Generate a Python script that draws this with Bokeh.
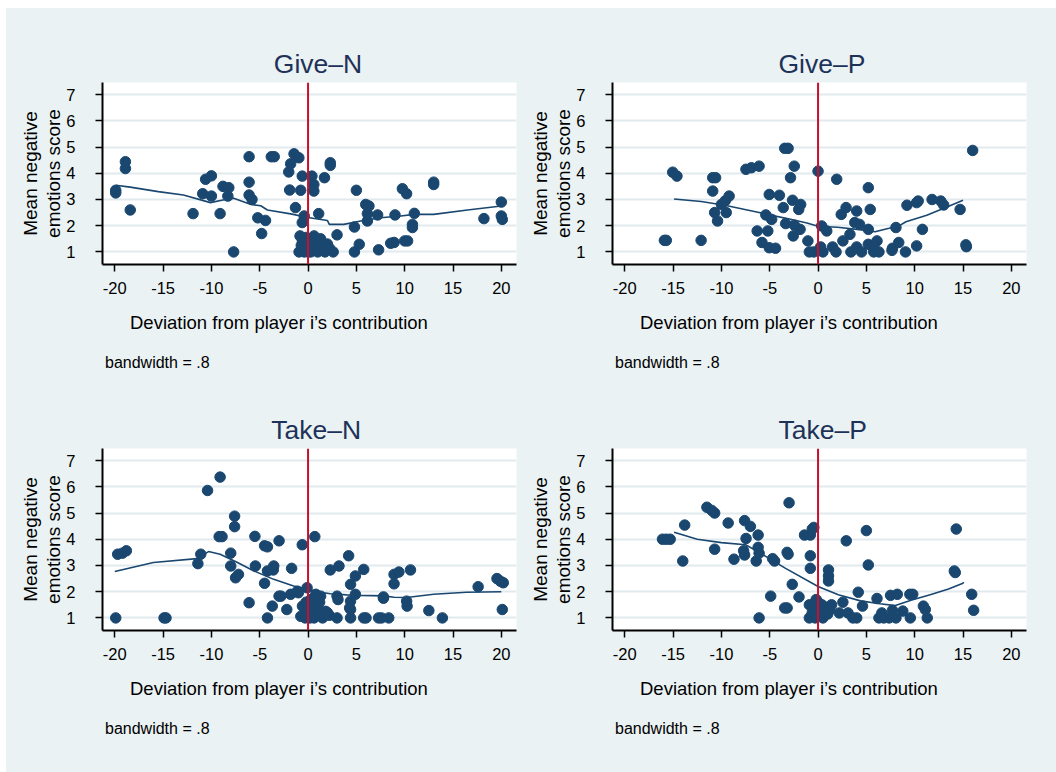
from bokeh.plotting import figure
from bokeh.layouts import column, row, Spacer
from bokeh.models import FixedTicker, Span, Title
from bokeh.embed import file_html
from bokeh.resources import INLINE

# ---------------- data ----------------
x_ticks = [-20, -15, -10, -5, 0, 5, 10, 15, 20]
x_tick_labels = ["-20", "-15", "-10", "-5", "0", "5", "10", "15", "20"]
y_ticks = [1, 2, 3, 4, 5, 6, 7]
ref_x = 0

titles = ["Give\u2013N", "Give\u2013P", "Take\u2013N", "Take\u2013P"]
x_label = "Deviation from player i\u2019s contribution"
y_label = "Mean negative\nemotions score"
note = "bandwidth = .8"

gn_x = [-19.9, -19.9, -18.9, -18.9, -18.4, -11.9, -10.6, -10.0, -10.9, -10.0, -9.1, -8.8, -8.2, -8.3,
        -7.7, -6.1, -6.1, -6.1, -5.8, -5.2, -4.4, -4.8, -3.8, -3.5, -1.8, -2.0, -1.9, -1.45, -0.95,
        -1.3, -0.76, -0.6, -0.6, -0.4, 0.4, 0.6, 0.6, 1.7, 1.1, 2.3, 2.3,
        -0.93, -0.58, -0.83, 0.28, 0.97, 1.65, 1.75, 0.62, 0.07, -0.4, -0.7, 0.3, 1.3, 2.0, 1.0, 0.5,
        -0.2, 1.4, 2.2, 0.0, 0.8,
        2.6, 3.0, 4.8, 5.3, 7.3, 4.8, 5.0, 5.97, 6.14, 6.14, 7.2, 8.55, 8.9, 9.0, 9.76, 10.2, 10.0,
        10.3, 10.8, 10.8, 11.0, 13.0, 13.0, 18.2, 20.0, 20.0, 20.1, 6.3]
gn_y = [3.35, 3.25, 4.44, 4.18, 2.6, 2.46, 3.77, 3.9, 3.22, 3.13, 2.46, 3.5, 3.45, 3.13,
        1.0, 4.63, 3.66, 3.17, 3.0, 2.3, 2.2, 1.7, 4.63, 4.63, 4.36, 4.05, 3.36, 4.74, 4.59,
        2.69, 3.35, 3.89, 2.12, 2.37, 3.89, 3.57, 3.32, 3.83, 2.46, 4.3, 4.4,
        1.0, 1.42, 1.61, 1.0, 1.29, 1.1, 1.0, 1.61, 1.2, 1.0, 1.25, 1.45, 1.5, 1.3, 1.0, 1.3,
        1.55, 1.2, 1.15, 1.0, 1.15,
        1.0, 1.65, 1.0, 1.29, 1.08, 1.95, 3.35, 2.81, 2.46, 2.18, 2.41, 1.33, 1.36, 2.41, 3.41, 3.22, 1.42,
        1.42, 2.05, 1.93, 2.47, 3.66, 3.57, 2.27, 2.9, 2.37, 2.24, 2.75]
gn_lx = [-19.9, -18.4, -15.5, -12.9, -10.1, -8.8, -7.7, -5.9, -4.9, -4.2, -1.8, 0.0, 2.0, 2.2,
         3.7, 5.45, 7.5, 9.6, 11.0, 13.0, 16.5, 20.0]
gn_ly = [3.54, 3.47, 3.3, 3.17, 2.88, 2.98, 3.05, 2.81, 2.76, 2.6, 2.45, 2.31, 2.2, 2.05,
         2.05, 2.18, 2.3, 2.37, 2.43, 2.43, 2.6, 2.75]

gp_x = [-15.9, -15.7, -15.04, -14.6, -12.1, -10.9, -10.6, -10.9, -10.7, -10.4, -10.0, -9.5, -9.2, -9.6,
        -7.46, -6.9, -6.1, -5.05, -4.0, -5.4, -4.8, -6.3, -5.2, -5.8, -5.05, -4.4, -3.6, -3.35, -3.45,
        -3.1, -2.85, -2.46, -2.64, -1.8, -2.0, -2.57, -1.86, -2.45, -1.05, 0.0, 0.37, 0.9, -0.44, 0.27,
        0.5, 1.5, 1.86, 1.93, 2.4, 2.9, 2.57, 3.3, 4.0, 3.8, 4.3, 3.4, 4.0, 4.5, 5.2, 5.4, 5.2, 5.2,
        6.1, 5.76, 6.3, 7.7, 8.35, 8.06, 9.05, 9.2, 10.2, 10.36, 10.2, 10.8, 11.8, 12.7, 13.0, 14.7,
        15.3, 15.35, 16.0, -0.9, 7.65, 5.7]
gp_y = [1.44, 1.44, 4.04, 3.89, 1.44, 3.83, 3.83, 3.32, 2.5, 2.18, 2.81, 2.5, 3.13, 2.95,
        4.15, 4.21, 4.27, 3.19, 3.16, 2.41, 2.24, 1.8, 1.8, 1.36, 1.16, 1.14, 2.69, 2.08, 4.95,
        4.95, 3.83, 4.27, 2.97, 2.81, 2.62, 1.61, 1.86, 2.02, 1.42, 4.08, 1.99, 1.8, 1.0, 1.19,
        1.0, 1.19, 1.0, 3.77, 2.43, 2.69, 1.42, 1.67, 2.56, 2.12, 2.05, 1.0, 1.19, 1.0, 3.45, 2.62, 1.86, 1.29,
        1.42, 1.0, 1.0, 1.14, 1.36, 1.93, 1.0, 2.78, 2.88, 2.94, 1.23, 1.86, 3.0, 2.94, 2.79, 2.62,
        1.27, 1.2, 4.87, 1.0, 1.06, 1.19]
gp_lx = [-14.9, -12.1, -9.65, -6.1, -3.3, -1.15, 0.0, 2.0, 4.5, 5.9, 7.35, 8.5, 9.1, 11.25, 13.4, 15.0]
gp_ly = [3.02, 2.92, 2.78, 2.5, 2.28, 2.1, 1.98, 1.94, 1.84, 1.77, 1.9, 2.02, 2.15, 2.4, 2.72, 2.97]

tn_x = [-19.9, -19.7, -19.2, -18.8, -14.9, -14.7, -11.4, -11.1, -10.4, -9.1, -9.2, -8.9, -8.0, -8.0,
        -7.6, -7.6, -7.5, -7.2, -6.1, -5.5, -5.45, -4.5, -4.2, -4.5, -4.2, -4.2, -3.7, -3.55, -3.6,
        -3.0, -3.0, -2.2, -1.7, -1.8, -0.6, 0.7, -1.0, -0.1, -2.8, -1.1,
        -0.58, -0.75, 0.28, 0.97, 1.3, 1.83, 0.62, 1.5, 2.0, 0.0, 0.5, 1.0, -0.3, 0.2, 0.8, 1.2, 0.4,
        -0.2, 2.2,
        2.3, 3.2, 3.0, 3.1, 3.0, 4.2, 4.4, 4.9, 4.4, 4.4, 4.4, 4.9, 4.3, 5.76, 5.76, 6.0, 7.3, 7.6,
        8.35, 7.8, 7.8, 8.9, 9.4, 8.9, 10.2, 10.25, 10.6, 12.5, 13.9, 17.6, 19.55, 19.9, 20.2, 20.1]
tn_y = [1.0, 3.43, 3.47, 3.56, 1.0, 1.0, 3.07, 3.43, 5.86, 6.37, 4.1, 4.1, 3.47, 2.98,
        4.88, 4.48, 2.53, 2.66, 1.58, 4.11, 2.98, 3.75, 3.71, 2.32, 2.79, 1.0, 1.45, 2.98, 2.83,
        3.94, 1.83, 1.32, 2.89, 1.9, 3.79, 4.1, 1.96, 2.15, 1.83, 2.02,
        1.45, 1.06, 1.7, 1.45, 1.83, 1.25, 1.0, 1.0, 1.2, 1.3, 1.55, 1.2, 1.0, 1.0, 1.9, 1.6, 1.25,
        1.6, 1.1,
        2.83, 2.98, 1.83, 1.7, 1.0, 3.37, 2.28, 2.6, 1.64, 1.32, 1.0, 1.9, 1.38, 2.85, 1.0, 1.0, 1.0, 1.0,
        1.0, 1.8, 1.75, 2.66, 2.75, 2.3, 1.64, 1.45, 2.83, 1.28, 1.0, 2.19, 2.5, 2.4, 2.34, 1.32]
tn_lx = [-20.0, -16.0, -11.5, -10.3, -9.1, -7.3, -5.6, -3.55, -1.5, 0.0, 1.3, 2.3, 4.0, 5.4, 7.8,
         8.9, 10.2, 13.0, 16.4, 20.0]
tn_ly = [2.77, 3.11, 3.26, 3.53, 3.43, 3.11, 2.79, 2.47, 2.22, 2.09, 1.98, 1.92, 1.88, 1.86, 1.84,
         1.79, 1.78, 1.9, 1.98, 2.0]

tp_x = [-16.1, -15.3, -15.7, -13.8, -14.0, -11.5, -10.7, -11.0, -10.7, -9.3, -8.7, -7.6, -7.0, -7.45,
        -7.7, -7.6, -6.2, -6.2, -6.1, -6.4, -6.1, -4.7, -4.5, -4.9, -3.45, -3.2, -3.2, -3.1, -3.0,
        -2.67, -1.97, -1.4, -0.8, -0.6, -0.44, -0.8, -0.8,
        -0.9, -0.9, -0.6, -0.3, 0.0, 0.2, 0.5, 0.8, 1.2, 1.4, -0.5, 0.0, 0.4, 1.0, -0.2,
        1.08, 1.08, 1.08, 2.57, 2.2, 2.92, 3.1, 4.16, 4.0, 4.6, 5.0, 5.2, 6.1, 6.3, 6.8, 6.6, 7.5,
        8.2, 7.7, 7.35, 8.06, 8.77, 9.5, 9.8, 9.55, 10.9, 11.1, 11.3, 14.1, 14.2, 14.3, 15.9, 16.1, 3.6]
tp_y = [4.0, 4.0, 4.0, 4.54, 3.17, 5.22, 5.0, 5.1, 3.62, 4.62, 3.24, 4.71, 4.49, 4.03,
        3.56, 3.4, 4.16, 3.69, 3.47, 3.17, 1.0, 3.26, 3.17, 1.83, 1.38, 1.38, 3.5, 3.43, 5.39,
        2.28, 1.8, 4.16, 4.16, 4.39, 4.45, 3.37, 2.89,
        1.0, 1.5, 1.2, 1.0, 1.6, 1.3, 1.0, 1.4, 1.3, 1.5, 1.35, 1.1, 1.5, 1.15, 1.7,
        2.83, 2.6, 2.41, 1.6, 1.19, 3.94, 1.19, 1.98, 1.0, 1.45, 4.33, 3.02, 1.74, 1.0, 1.0, 1.19, 1.86,
        1.9, 1.29, 1.0, 1.0, 1.26, 1.9, 1.9, 1.0, 1.45, 1.32, 1.0, 2.79, 2.73, 4.39, 1.9, 1.29, 1.0]
tp_lx = [-14.9, -12.5, -10.0, -7.5, -6.1, -3.4, 0.0, 2.1, 4.4, 6.4, 8.0, 9.7, 11.6, 13.5, 15.0, 15.05]
tp_ly = [4.27, 4.0, 3.87, 3.79, 3.5, 2.9, 2.2, 1.88, 1.65, 1.54, 1.47, 1.68, 1.88, 2.1, 2.32, 2.37]

# ---------------- style ----------------
BG = "#eaf2f3"
GRID = "#e1eaed"
NAVY = "#1a476f"
TITLE_C = "#1e3259"
RED = "#c8102e"
FONT = "Liberation Sans"


def panel(title, xs, ys, lx, ly, width, height, bl, br, bt, bb, toff):
    p = figure(width=width, height=height, x_range=(-21.27, 21.57), y_range=(0.52, 7.46),
               output_backend="svg", toolbar_location=None,
               min_border_left=bl, min_border_right=br, min_border_top=bt, min_border_bottom=bb,
               background_fill_color="white", border_fill_color=BG, outline_line_color=None)
    p.title = Title(text=title, align="left", offset=toff, standoff=7, text_font=FONT,
                    text_font_size="26.5px", text_font_style="normal", text_color=TITLE_C)

    for ax in (p.xaxis[0], p.yaxis[0]):
        ax.axis_line_width = 2
        ax.axis_line_color = "black"
        ax.major_tick_line_width = 1.5
        ax.major_tick_line_color = "black"
        ax.major_tick_out = 7
        ax.major_tick_in = 0
        ax.minor_tick_line_color = None
        ax.major_label_text_font = FONT
        ax.major_label_text_font_size = "16.5px"
        ax.major_label_text_color = "black"
        ax.axis_label_text_font = FONT
        ax.axis_label_text_font_size = "19px"
        ax.axis_label_text_font_style = "normal"
        ax.axis_label_text_color = "black"

    p.xaxis.ticker = FixedTicker(ticks=x_ticks)
    p.xaxis.major_label_overrides = dict(zip(x_ticks, x_tick_labels))
    p.yaxis.ticker = FixedTicker(ticks=y_ticks)
    p.xaxis.major_label_standoff = 10
    p.yaxis.axis_label = y_label
    p.yaxis.major_label_standoff = 20
    p.yaxis.axis_label_standoff = -1
    p.yaxis.axis_label_text_line_height = 1.1

    p.xgrid.visible = False
    p.ygrid.grid_line_color = GRID
    p.ygrid.grid_line_width = 2

    p.line(lx, ly, line_color=NAVY, line_width=1.6)
    p.scatter(xs, ys, size=10.5, fill_color=NAVY, line_color=NAVY)
    p.add_layout(Span(location=ref_x, dimension="height", line_color=RED, line_width=2))

    p.add_layout(Title(text=x_label, align="left", offset=27.5, standoff=26, text_font=FONT,
                       text_font_size="18.5px", text_font_style="normal", text_color="black"), "below")
    p.add_layout(Title(text=note, align="left", offset=2.5, standoff=12, text_font=FONT,
                       text_font_size="16px", text_font_style="normal", text_color="black"), "below")
    return p


p1 = panel(titles[0], gn_x, gn_y, gn_lx, gn_ly, 514, 382, 96, 4, 74, 126, 171.3)
p2 = panel(titles[1], gp_x, gp_y, gp_lx, gp_ly, 536, 382, 92, 30, 74, 126, 166)
p3 = panel(titles[2], tn_x, tn_y, tn_lx, tn_ly, 514, 382, 96, 4, 58, 142, 168.7)
p4 = panel(titles[3], tp_x, tp_y, tp_lx, tp_ly, 536, 382, 92, 30, 58, 142, 166)

inner = column(row(p1, p2), row(p3, p4), styles={"background-color": BG})
layout = column(Spacer(width=1056, height=8), row(Spacer(width=6, height=764), inner))
open("out.html", "w").write(file_html(layout, INLINE))
